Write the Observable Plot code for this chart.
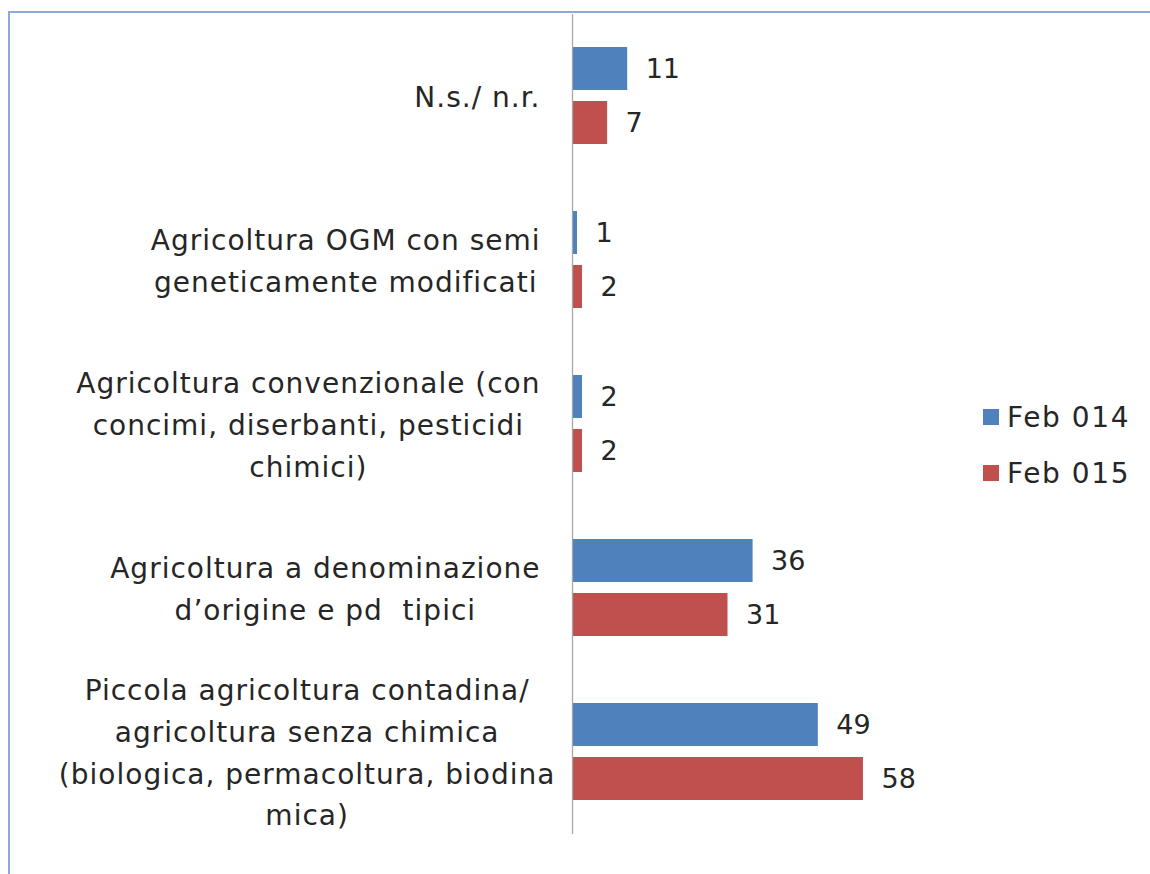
<!DOCTYPE html>
<html>
<head>
<meta charset="utf-8">
<script src="https://cdn.jsdelivr.net/npm/d3@7"></script>
<script src="https://cdn.jsdelivr.net/npm/@observablehq/plot@0.6"></script>
<style>
  html, body { margin: 0; padding: 0; background: #fff; overflow: hidden; }
  #wrap { position: relative; width: 1150px; height: 874px; overflow: hidden; }
  #border { position: absolute; left: 8px; top: 11px; width: 1160px; height: 900px; border: 2px solid #8eaadb; box-sizing: border-box; }
  #chart { position: absolute; left: 0; top: 0; }
  #legend { position: absolute; left: 983px; top: 389px; font-family: "DejaVu Sans", sans-serif; font-size: 28px; letter-spacing: 1.6px; color: #262626; }
  #legend .item { display: flex; align-items: center; height: 56px; }
  #legend .sw { width: 16px; height: 16px; margin-right: 8px; }
</style>
</head>
<body>
<div id="wrap">
  <div id="border"></div>
  <div id="chart"></div>
  <div id="legend"></div>
</div>
<script>
const categories = ["N.s./ n.r.", "OGM", "Convenzionale", "Denominazione", "Piccola"];
const categoryLabels = [
  "N.s./ n.r.",
  "Agricoltura OGM con semi\ngeneticamente modificati",
  "Agricoltura convenzionale (con\nconcimi, diserbanti, pesticidi\nchimici)",
  "Agricoltura a denominazione\nd’origine e pd  tipici",
  "Piccola agricoltura contadina/\nagricoltura senza chimica\n(biologica, permacoltura, biodina\nmica)"
];
const series = ["Feb 014", "Feb 015"];
const feb014 = [11, 1, 2, 36, 49];
const feb015 = [7, 2, 2, 31, 58];
const colors = ["#4f81bd", "#c0504d"];

const rows = [];
categories.forEach((c, i) => {
  rows.push({category: c, series: series[0], value: feb014[i]});
  rows.push({category: c, series: series[1], value: feb015[i]});
});

const FONT = "DejaVu Sans";
const LABEL_SIZE = 28;
const LETTER_SP = 1;
const canvas = document.createElement("canvas");
const ctx = canvas.getContext("2d");
ctx.font = `${LABEL_SIZE}px "${FONT}"`;
const lineW = (l) => ctx.measureText(l).width + LETTER_SP * l.length;
const allLines = categoryLabels.flatMap(s => s.split("\n"));
const cap = 0.94 * Math.max(...allLines.map(lineW));
const blockWidth = (s) => Math.min(cap, Math.max(...s.split("\n").map(lineW)));

const labelMarks = categories.map((c, i) => Plot.text([{category: c, label: categoryLabels[i]}], {
  fy: "category",
  frameAnchor: "left",
  text: "label",
  textAnchor: "middle",
  dx: -(32 + blockWidth(categoryLabels[i]) / 2),
  dy: -3,
  lineHeight: 1.49,
  fontSize: LABEL_SIZE,
  fill: "#262626"
}));

const chart = Plot.plot({
  width: 1150,
  height: 874,
  marginTop: 14,
  marginBottom: 40,
  marginLeft: 572,
  marginRight: 277,
  style: {fontFamily: FONT, background: "transparent"},
  x: {domain: [0, 60], axis: null},
  y: {domain: series, axis: null, paddingInner: 0.2, paddingOuter: 0.591},
  fy: {domain: categories, axis: null, padding: 0},
  color: {domain: series, range: colors},
  marks: [
    Plot.barX(rows, {fy: "category", y: "series", x: "value", fill: "series"}),
    Plot.ruleX([0], {stroke: "#a6a6a6", strokeWidth: 1.3}),
    Plot.text(rows, {fy: "category", y: "series", x: "value", text: d => String(d.value), textAnchor: "start", dx: 18, fontSize: 27, fill: "#262626"}),
    ...labelMarks
  ]
});
chart.querySelectorAll("text").forEach(t => {
  if (t.textContent.length > 3) t.style.letterSpacing = LETTER_SP + "px";
});
document.getElementById("chart").appendChild(chart);

const legend = document.getElementById("legend");
series.forEach((s, i) => {
  const item = document.createElement("div");
  item.className = "item";
  const sw = document.createElement("div");
  sw.className = "sw";
  sw.style.background = colors[i];
  const t = document.createElement("span");
  t.textContent = s;
  item.appendChild(sw);
  item.appendChild(t);
  legend.appendChild(item);
});
</script>
</body>
</html>
